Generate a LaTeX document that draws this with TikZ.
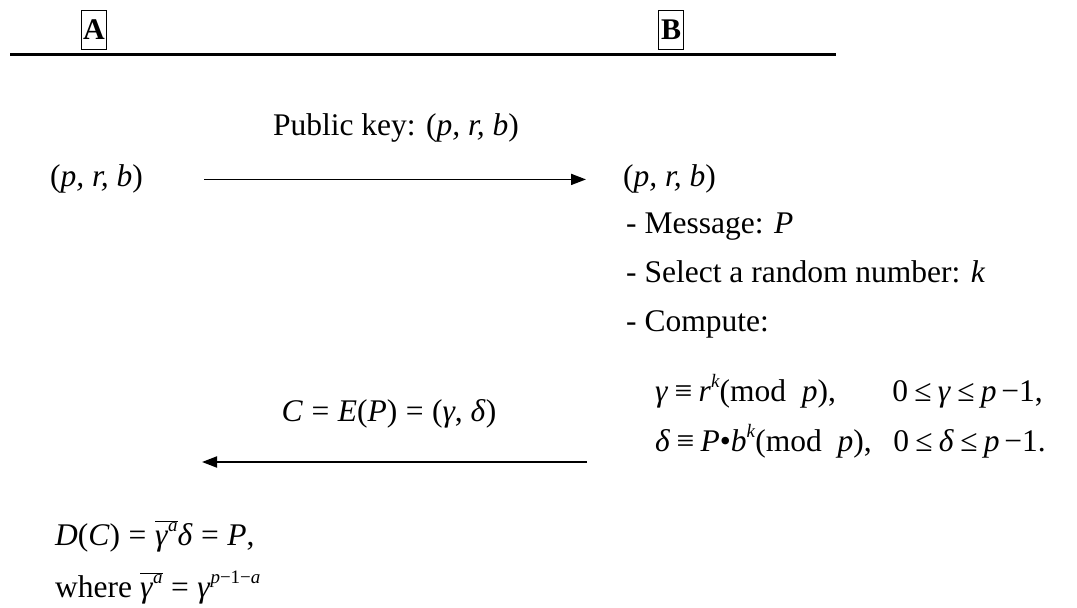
\documentclass[tikz,border=0pt]{standalone}
\usepackage{fontspec}
\setmainfont{Liberation Serif}
\usetikzlibrary{arrows.meta}
\newcommand\myup[1]{\raisebox{0.42em}{\fontsize{19}{19}\selectfont #1}}
\newcommand\mybar[1]{$\overline{\mbox{#1}}$}
\newcommand\myrel[1]{\hspace{0.2em}#1\hspace{0.2em}}
\newcommand\myeq{\hspace{0.27em}=\hspace{0.27em}}
\begin{document}
\begin{tikzpicture}[x=1pt,y=-1pt,
  txt/.style={inner sep=0pt, anchor=base west, font=\fontsize{31.5}{37}\selectfont},
  ctxt/.style={inner sep=0pt, anchor=base, font=\fontsize{31.5}{37}\selectfont},
  rtxt/.style={inner sep=0pt, anchor=base east, font=\fontsize{31.5}{37}\selectfont},
  party/.style={draw, line width=1.4pt, inner sep=0pt, minimum width=25pt, minimum height=39pt, font=\fontsize{30}{30}\selectfont\bfseries},
  msg/.style={line width=1.8pt, -{Triangle[length=15pt,width=11pt]}}]
\useasboundingbox (0,0) rectangle (1077,608);
% header
\node[party] (A) at (94,30) {A};
\node[party] (B) at (671,30) {B};
\coordinate (ruleL) at (10,54);
\coordinate (ruleR) at (836,54);
\draw[line width=3pt] (ruleL) -- (ruleR);
% first exchange
\node[ctxt] (pubkey) at (396,135) {Public key: (\textit{p, r, b})};
\node[txt] (keyA) at (50,186) {(\textit{p, r, b})};
\node[txt] (keyB) at (623,186) {(\textit{p, r, b})};
\draw[msg] ([xshift=61pt,yshift=-1pt]keyA.east) -- ([xshift=-37pt,yshift=-1pt]keyB.west);
% B side
\node[txt] (message) at (626,233) {- Message: \textit{P}};
\node[txt] (select) at (626,282) {- Select a random number: \textit{k}};
\node[txt] (compute) at (626,331) {- Compute:};
\node[txt] (gam1) at (655,401) {\textit{γ}\myrel{≡}\textit{r}\myup{\textit{k}}(mod\ \ \textit{p}),};
\node[rtxt] (gam2) at (1043,401) {0\myrel{≤}\textit{γ}\myrel{≤}\textit{p}\hspace{0.15em}−1,};
\node[txt] (del1) at (655,451) {\textit{δ}\myrel{≡}\textit{P}•\textit{b}\myup{\textit{k}}(mod\ \ \textit{p}),};
\node[rtxt] (del2) at (1046,451) {0\myrel{≤}\textit{δ}\myrel{≤}\textit{p}\hspace{0.15em}−1.};
% second exchange
\node[ctxt] (cipher) at (389,421) {\textit{C}\myeq\textit{E}(\textit{P})\myeq(\textit{γ}, \textit{δ})};
\coordinate (retB) at (587,462);
\coordinate (retA) at (202,462);
\draw[msg] (retB) -- (retA);
% A side
\node[txt] (decrypt) at (55,545) {\textit{D}(\textit{C})\myeq\mybar{\textit{γ}\myup{\textit{a}}}\textit{δ}\myeq\textit{P},};
\node[txt] (where) at (55,597) {where \mybar{\textit{γ}\myup{\textit{a}}}\myeq\textit{γ}\myup{\textit{p}−1−\textit{a}}};
\end{tikzpicture}
\end{document}
